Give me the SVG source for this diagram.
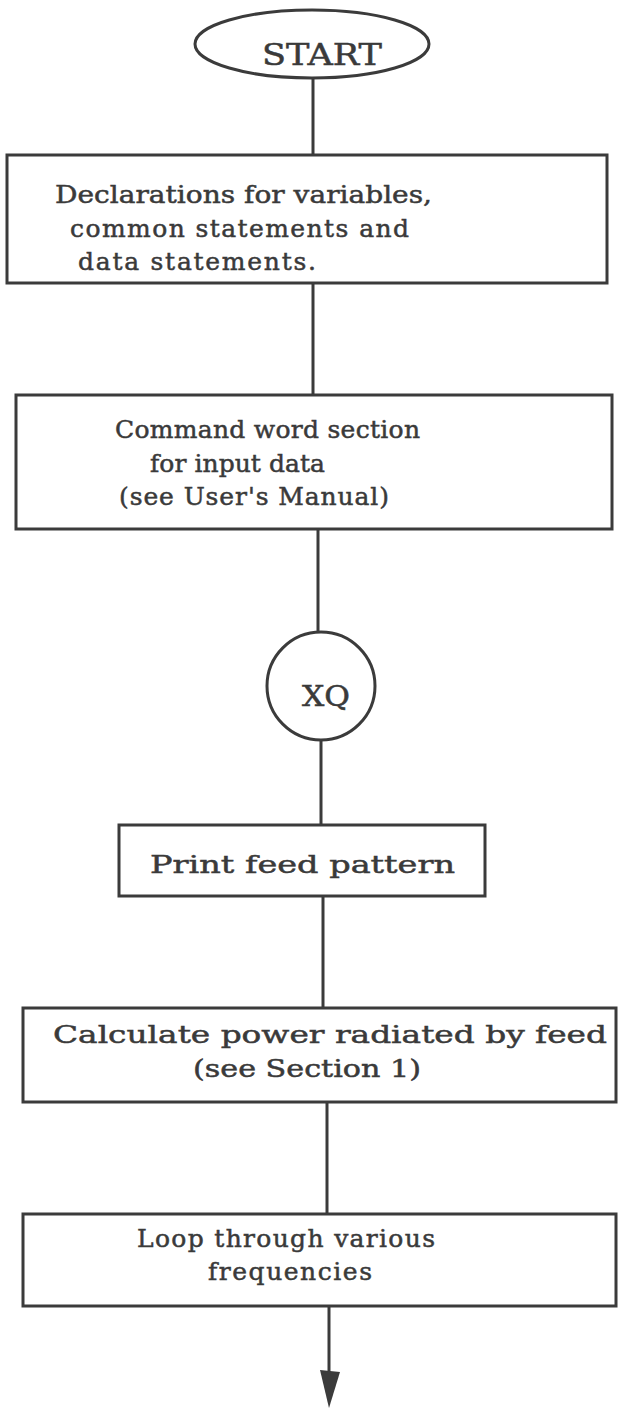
<svg xmlns="http://www.w3.org/2000/svg" width="618" height="1411" viewBox="0 0 618 1411">
  <style>
    .shape { fill: none; stroke: #3b3b3b; stroke-width: 3; }
    .wire { stroke: #3b3b3b; stroke-width: 3; fill: none; }
    .label { font-family: "DejaVu Serif", "Liberation Serif", serif; font-size: 25px; fill: #3a3a3a; stroke: #3a3a3a; stroke-width: 0.5; }
    .big { font-size: 30px; }
    .tag { font-size: 27px; }
  </style>
  <rect width="618" height="1411" fill="#ffffff"/>

  <!-- flow connectors -->
  <g id="connectors">
    <line class="wire" x1="313" y1="78" x2="313" y2="155"/>
    <line class="wire" x1="313" y1="283" x2="313" y2="395"/>
    <line class="wire" x1="318" y1="529" x2="318" y2="632"/>
    <line class="wire" x1="321" y1="740" x2="321" y2="825"/>
    <line class="wire" x1="323" y1="896" x2="323" y2="1008"/>
    <line class="wire" x1="327" y1="1102" x2="327" y2="1214"/>
    <line class="wire" x1="329" y1="1306" x2="329" y2="1375"/>
    <polygon points="320,1370 340,1372 329,1408" fill="#3b3b3b"/>
  </g>

  <g id="start">
    <ellipse class="shape" cx="312" cy="44" rx="117" ry="34"/>
    <text class="label big" x="262" y="65" textLength="120" lengthAdjust="spacingAndGlyphs">START</text>
  </g>

  <g id="declarations">
    <rect class="shape" x="7" y="155" width="600" height="128"/>
    <text class="label" x="55" y="203" textLength="377" lengthAdjust="spacingAndGlyphs">Declarations for variables,</text>
    <text class="label" x="70" y="237" textLength="339">common statements and</text>
    <text class="label" x="78" y="270" textLength="238">data statements.</text>
  </g>

  <g id="command-words">
    <rect class="shape" x="16" y="395" width="596" height="134"/>
    <text class="label" x="115" y="438" textLength="305">Command word section</text>
    <text class="label" x="150" y="472" textLength="175">for input data</text>
    <text class="label" x="119" y="505" textLength="270">(see User's Manual)</text>
  </g>

  <g id="xq">
    <circle class="shape" cx="321" cy="686" r="54"/>
    <text class="label tag" x="302" y="706" textLength="48" lengthAdjust="spacingAndGlyphs">XQ</text>
  </g>

  <g id="print-feed">
    <rect class="shape" x="119" y="825" width="366" height="71"/>
    <text class="label" x="150" y="873" textLength="305" lengthAdjust="spacingAndGlyphs">Print feed pattern</text>
  </g>

  <g id="feed-power">
    <rect class="shape" x="23" y="1008" width="593" height="94"/>
    <text class="label" x="53" y="1043" textLength="554" lengthAdjust="spacingAndGlyphs">Calculate power radiated by feed</text>
    <text class="label" x="193" y="1077" textLength="228" lengthAdjust="spacingAndGlyphs">(see Section 1)</text>
  </g>

  <g id="frequency-loop">
    <rect class="shape" x="23" y="1214" width="593" height="92"/>
    <text class="label" x="137" y="1247" textLength="298">Loop through various</text>
    <text class="label" x="208" y="1280" textLength="164">frequencies</text>
  </g>
</svg>
